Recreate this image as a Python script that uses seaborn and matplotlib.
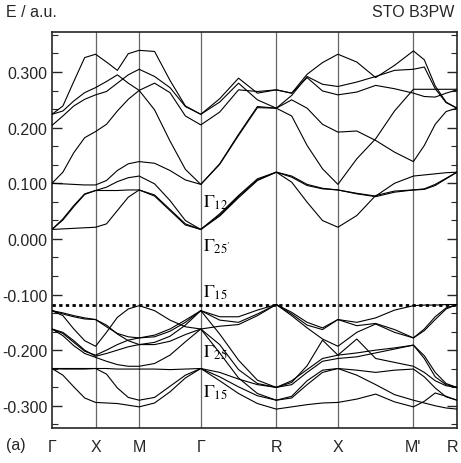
import numpy as np
import pandas as pd
import matplotlib
matplotlib.use("Agg")
import matplotlib.pyplot as plt
import matplotlib.transforms as mtransforms
from matplotlib.ticker import MultipleLocator, AutoMinorLocator, FormatStrFormatter
import seaborn as sns

# high-symmetry points of the k path and their distances
kpath_labels = ["Γ", "X", "M", "Γ", "R", "X", "M'", "R"]
kpath_dist = [0.0, 0.5, 1.0, 1.7071, 2.5731, 3.2802, 4.1462, 4.6462]

# band energies (a.u.) read at 0, 1/4, 1/2, 3/4 of every segment, last value = final R
b1 = [0.017, 0.018, 0.019, 0.020, 0.021, 0.027, 0.051, 0.075, 0.088, 0.077, 0.051, 0.025,
      0.017, 0.045, 0.078, 0.108, 0.120, 0.102, 0.066, 0.033, 0.021, 0.042, 0.078, 0.086,
      0.088, 0.089, 0.096, 0.108, 0.120]
b2 = [0.017, 0.034, 0.058, 0.080, 0.087, 0.087, 0.087, 0.088, 0.088, 0.079, 0.053, 0.027,
      0.017, 0.043, 0.076, 0.106, 0.120, 0.111, 0.096, 0.090, 0.088, 0.081, 0.076, 0.084,
      0.088, 0.090, 0.098, 0.109, 0.120]
b3 = [0.017, 0.036, 0.060, 0.081, 0.087, 0.093, 0.103, 0.110, 0.113, 0.099, 0.069, 0.033,
      0.017, 0.041, 0.074, 0.105, 0.120, 0.113, 0.098, 0.091, 0.088, 0.082, 0.077, 0.100,
      0.113, 0.115, 0.117, 0.119, 0.120]
b4 = [0.100, 0.099, 0.098, 0.097, 0.097, 0.105, 0.123, 0.135, 0.139, 0.136, 0.123, 0.106,
      0.098, 0.135, 0.188, 0.238, 0.235, 0.221, 0.168, 0.126, 0.098, 0.144, 0.180, 0.230,
      0.269, 0.269, 0.269, 0.269, 0.269]
b5 = [0.100, 0.120, 0.155, 0.182, 0.193, 0.206, 0.230, 0.251, 0.267, 0.232, 0.176, 0.125,
      0.098, 0.134, 0.186, 0.236, 0.235, 0.250, 0.235, 0.206, 0.192, 0.194, 0.177, 0.156,
      0.139, 0.168, 0.206, 0.229, 0.235]
u1 = [0.204, 0.221, 0.239, 0.251, 0.259, 0.265, 0.280, 0.295, 0.305, 0.292, 0.272, 0.238,
      0.224, 0.246, 0.280, 0.250, 0.235, 0.258, 0.292, 0.278, 0.274, 0.282, 0.292, 0.303,
      0.305, 0.309, 0.270, 0.245, 0.235]
u2 = [0.224, 0.230, 0.248, 0.263, 0.272, 0.283, 0.295, 0.280, 0.267, 0.280, 0.263, 0.221,
      0.205, 0.228, 0.268, 0.265, 0.268, 0.262, 0.290, 0.266, 0.259, 0.264, 0.276, 0.270,
      0.262, 0.256, 0.255, 0.262, 0.268]
u3 = [0.224, 0.239, 0.283, 0.326, 0.332, 0.318, 0.303, 0.333, 0.339, 0.337, 0.285, 0.239,
      0.224, 0.252, 0.289, 0.262, 0.268, 0.262, 0.296, 0.317, 0.332, 0.318, 0.290, 0.312,
      0.338, 0.322, 0.275, 0.246, 0.235]

v1 = [-0.129, -0.133, -0.138, -0.142, -0.145, -0.155, -0.171, -0.183, -0.190, -0.186, -0.175, -0.155,
      -0.129, -0.140, -0.140, -0.128, -0.118, -0.132, -0.150, -0.160, -0.145, -0.150, -0.142, -0.128,
      -0.120, -0.119, -0.119, -0.118, -0.118]
v2 = [-0.129, -0.135, -0.140, -0.144, -0.145, -0.158, -0.170, -0.176, -0.178, -0.173, -0.162, -0.146,
      -0.129, -0.146, -0.150, -0.135, -0.118, -0.135, -0.155, -0.163, -0.145, -0.156, -0.152, -0.163,
      -0.178, -0.162, -0.140, -0.124, -0.118]
v3 = [-0.129, -0.138, -0.162, -0.183, -0.193, -0.168, -0.141, -0.126, -0.120, -0.129, -0.146, -0.158,
      -0.162, -0.157, -0.154, -0.138, -0.118, -0.138, -0.160, -0.180, -0.193, -0.168, -0.153, -0.168,
      -0.178, -0.165, -0.145, -0.126, -0.118]
v4 = [-0.162, -0.170, -0.186, -0.202, -0.209, -0.200, -0.190, -0.182, -0.178, -0.176, -0.166, -0.150,
      -0.129, -0.171, -0.218, -0.254, -0.267, -0.258, -0.228, -0.182, -0.209, -0.180, -0.215, -0.222,
      -0.229, -0.240, -0.255, -0.264, -0.267]
v5 = [-0.162, -0.174, -0.192, -0.206, -0.213, -0.220, -0.226, -0.229, -0.229, -0.224, -0.209, -0.185,
      -0.162, -0.190, -0.235, -0.260, -0.267, -0.255, -0.235, -0.215, -0.209, -0.205, -0.200, -0.196,
      -0.191, -0.210, -0.240, -0.260, -0.267]
v6 = [-0.162, -0.168, -0.183, -0.200, -0.211, -0.206, -0.200, -0.194, -0.190, -0.190, -0.184, -0.172,
      -0.162, -0.205, -0.250, -0.278, -0.290, -0.283, -0.255, -0.236, -0.233, -0.236, -0.240, -0.236,
      -0.234, -0.248, -0.268, -0.284, -0.290]
v7 = [-0.233, -0.233, -0.233, -0.233, -0.233, -0.233, -0.234, -0.234, -0.234, -0.234, -0.235, -0.234,
      -0.233, -0.240, -0.252, -0.262, -0.267, -0.262, -0.240, -0.220, -0.215, -0.212, -0.205, -0.198,
      -0.191, -0.215, -0.248, -0.262, -0.267]
v8 = [-0.233, -0.234, -0.234, -0.234, -0.233, -0.243, -0.268, -0.285, -0.290, -0.285, -0.265, -0.245,
      -0.233, -0.248, -0.266, -0.282, -0.290, -0.286, -0.262, -0.240, -0.233, -0.245, -0.262, -0.280,
      -0.290, -0.295, -0.300, -0.304, -0.306]
v9 = [-0.233, -0.245, -0.266, -0.286, -0.294, -0.295, -0.296, -0.299, -0.302, -0.295, -0.275, -0.250,
      -0.233, -0.255, -0.278, -0.296, -0.306, -0.302, -0.298, -0.295, -0.294, -0.288, -0.279, -0.293,
      -0.302, -0.292, -0.277, -0.283, -0.290]

bands = {"b1": b1, "b2": b2, "b3": b3, "b4": b4, "b5": b5, "u1": u1, "u2": u2, "u3": u3,
         "v1": v1, "v2": v2, "v3": v3, "v4": v4, "v5": v5, "v6": v6, "v7": v7, "v8": v8, "v9": v9}

e_top_valence = -0.1185

# state labels at the zone centre
gamma_text = [r"$\Gamma_{12}$", r"$\Gamma_{25'}$", r"$\Gamma_{15}$", r"$\Gamma_{25}$", r"$\Gamma_{15}$"]
gamma_e = [0.066, -0.013, -0.095, -0.203, -0.275]

# k coordinate of every sample: 4 per segment + last point
k = []
for a, b in zip(kpath_dist[:-1], kpath_dist[1:]):
    k.extend(a + (b - a) * np.array([0, 0.25, 0.5, 0.75]))
k.append(kpath_dist[-1])
k = np.array(k)

rows = []
for name, e in bands.items():
    for kk, ee in zip(k, e):
        rows.append({"k": kk, "E": ee, "band": name})
df = pd.DataFrame(rows)

sns.set_style("ticks")
plt.rcParams["font.family"] = ["Liberation Sans", "DejaVu Sans"]
plt.rcParams["mathtext.fontset"] = "stix"
plt.rcParams["axes.unicode_minus"] = False

fig = plt.figure(figsize=(4.61, 4.64), dpi=100)
ax = fig.add_axes([0.1128, 0.0754, 0.8785, 0.8535])

for kk in kpath_dist[1:-1]:
    ax.axvline(kk, color="0.4", lw=0.9, zorder=1)

sns.lineplot(data=df, x="k", y="E", units="band", estimator=None, color="black",
             lw=0.8, ax=ax, legend=False, zorder=3)

ax.axhline(e_top_valence, color="black", lw=2.0, ls=(0, (1.2, 1.2)), zorder=4)

for t, e in zip(gamma_text, gamma_e):
    ax.text(kpath_dist[3] + 0.03, e, t, fontsize=13, ha="left", va="center", color="black")

ax.set_xlim(kpath_dist[0], kpath_dist[-1])
ax.set_ylim(-0.34, 0.372)
ax.set_xticks(kpath_dist)
ax.set_xticklabels(kpath_labels, fontsize=11.5)
ax.tick_params(axis="x", length=0, pad=8)
# keep the last R inside the figure
last = ax.get_xticklabels()[-1]
last.set_transform(last.get_transform() + mtransforms.ScaledTranslation(-3 / 72, 0, fig.dpi_scale_trans))
ax.yaxis.set_major_locator(MultipleLocator(0.1))
ax.yaxis.set_minor_locator(AutoMinorLocator(3))
ax.yaxis.set_major_formatter(FormatStrFormatter("%.3f"))
ax.tick_params(axis="y", which="both", direction="in", left=True, right=True, labelsize=11.5)
ax.tick_params(axis="y", which="major", length=7, width=1)
ax.tick_params(axis="y", which="minor", length=4, width=0.8)
ax.set_xlabel("")
ax.set_ylabel("")
for s in ax.spines.values():
    s.set_linewidth(1.2)

fig.text(0.012, 0.972, "E / a.u.", fontsize=11.5, ha="left", va="center")
fig.text(0.985, 0.972, "STO B3PW", fontsize=11.5, ha="right", va="center")
fig.text(0.012, 0.04, "(a)", fontsize=11.5, ha="left", va="center")

fig.savefig("out.png", dpi=100)
